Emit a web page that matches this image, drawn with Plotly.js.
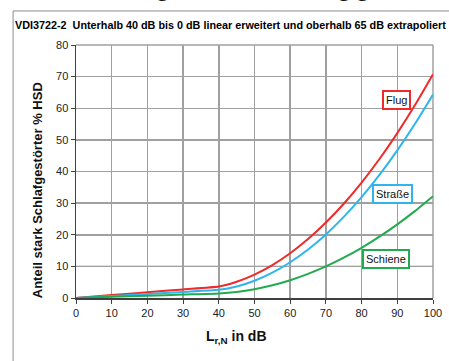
<!DOCTYPE html>
<html>
<head>
<meta charset="utf-8">
<script src="https://cdn.plot.ly/plotly-3.0.1.min.js"></script>
<style>
html,body{margin:0;padding:0;background:#fff;}
#chart{width:449px;height:361px;}
</style>
</head>
<body>
<div id="chart"></div>
<script>
// Level L_r,N in dB
var levels = [0, 10, 20, 30, 40, 45, 50, 55, 60, 65, 70, 75, 80, 85, 90, 95, 100];
// % HSD per source
var flug    = [0, 0.91, 1.81, 2.72, 3.62, 5.14, 7.40, 10.40, 14.14, 18.62, 23.85, 29.81, 36.52, 43.96, 52.15, 61.08, 70.75];
var strasse = [0, 0.64, 1.29, 1.93, 2.58, 3.64, 5.45, 8.00, 11.30, 15.33, 20.11, 25.64, 31.90, 38.91, 46.67, 55.16, 64.36];
var schiene = [0, 0.36, 0.72, 1.08, 1.44, 1.92, 2.78, 4.01, 5.62, 7.62, 9.99, 12.74, 15.88, 19.39, 23.28, 27.55, 32.20];
var seriesNames = ["Flug", "Straße", "Schiene"];
var seriesColors = ["#ee2a2a", "#2fb5ec", "#22aa4f"];
var labelX = [89.9, 88.7, 86.9];
var labelY = [62.7, 33.0, 12.4];
var xTicks = [0, 10, 20, 30, 40, 50, 60, 70, 80, 90, 100];
var yTicks = [0, 10, 20, 30, 40, 50, 60, 70, 80];

var W = 449, H = 361;
var mL = 76, mR = 15.5, mT = 45, mB = 63.3;
var pw = W - mL - mR, ph = H - mT - mB;
function px2x(p){ return (p - mL) / pw; }
function py2y(p){ return (H - mB - p) / ph; }

var seriesData = [flug, strasse, schiene];
var traces = seriesData.map(function(d, i){
  return {
    x: levels, y: d, type: 'scatter', mode: 'lines', name: seriesNames[i],
    line: {color: seriesColors[i], width: 2, shape: 'spline', smoothing: 0.5},
    hoverinfo: 'skip'
  };
});

var annotations = seriesNames.map(function(n, i){
  return {
    x: labelX[i], y: labelY[i], xref: 'x', yref: 'y', text: n, showarrow: false,
    font: {family: 'Liberation Sans, Arial, sans-serif', size: 11, color: '#111'},
    bgcolor: '#ffffff', bordercolor: seriesColors[i], borderwidth: 2, borderpad: 2
  };
});
annotations.push({
  x: px2x(237), y: py2y(337), xref: 'paper', yref: 'paper', showarrow: false,
  text: 'L<sub>r,N</sub> in dB', xanchor: 'center', yanchor: 'middle',
  font: {family: 'Liberation Sans, Arial, sans-serif', size: 14, color: '#111', weight: 'bold'}
});
annotations.push({
  x: px2x(37), y: py2y(190), xref: 'paper', yref: 'paper', showarrow: false,
  text: 'Anteil stark Schlafgestörter % HSD', textangle: -90, xanchor: 'center', yanchor: 'middle',
  font: {family: 'Liberation Sans, Arial, sans-serif', size: 13, color: '#111', weight: 'bold'}
});
annotations.push({
  x: px2x(4), y: py2y(3), xref: 'paper', yref: 'paper', showarrow: false,
  text: 'der stark Schlafgestörten in Abhängigkeit', xanchor: 'left', yanchor: 'bottom',
  font: {family: 'Liberation Serif, Times New Roman, serif', size: 24, color: '#111'}
});

var shapes = [
  // outer frame
  {type: 'line', xref: 'paper', yref: 'paper', x0: px2x(13), x1: px2x(13), y0: py2y(11), y1: py2y(400), line: {color: '#8c8c8c', width: 1}},
  {type: 'line', xref: 'paper', yref: 'paper', x0: px2x(13), x1: px2x(460), y0: py2y(11), y1: py2y(11), line: {color: '#8c8c8c', width: 1}},
  // black line at 10 %
  {type: 'line', xref: 'paper', yref: 'y', x0: 0, x1: 1, y0: 10, y1: 10, layer: 'below', line: {color: '#000', width: 1}},
  // plot border right/top
  {type: 'line', xref: 'paper', yref: 'paper', x0: 1, x1: 1, y0: 0, y1: 1, layer: 'below', line: {color: '#a0a0a0', width: 1.5}},
  {type: 'line', xref: 'paper', yref: 'paper', x0: 0, x1: 1, y0: 1, y1: 1, layer: 'below', line: {color: '#a0a0a0', width: 1.5}}
];

var layout = {
  width: W, height: H,
  margin: {l: mL, r: mR, t: mT, b: mB, pad: 0},
  paper_bgcolor: '#ffffff', plot_bgcolor: '#ffffff',
  showlegend: false,
  title: {
    text: 'VDI3722-2  Unterhalb 40 dB bis 0 dB linear erweitert und oberhalb 65 dB extrapoliert',
    x: 15 / W, xanchor: 'left', xref: 'container',
    y: 1 - 25 / H, yanchor: 'middle', yref: 'container',
    font: {family: 'Liberation Sans, Arial, sans-serif', size: 10.8, color: '#000', weight: 'bold'}
  },
  xaxis: {
    range: [0, 100], tickvals: xTicks, ticktext: xTicks.map(String),
    showgrid: true, gridcolor: '#a0a0a0', gridwidth: 1.5,
    zeroline: false, showline: true, linecolor: '#404040', linewidth: 1.5,
    ticks: 'outside', ticklen: 4, tickcolor: '#404040', tickwidth: 1,
    tickfont: {family: 'Liberation Sans, Arial, sans-serif', size: 11, color: '#222'},
    fixedrange: true
  },
  yaxis: {
    range: [0, 80], tickvals: yTicks, ticktext: yTicks.map(String),
    showgrid: true, gridcolor: '#a0a0a0', gridwidth: 1.5,
    zeroline: false, showline: true, linecolor: '#404040', linewidth: 1.5,
    ticks: 'outside', ticklen: 4, tickcolor: '#404040', tickwidth: 1,
    tickfont: {family: 'Liberation Sans, Arial, sans-serif', size: 11, color: '#222'},
    fixedrange: true
  },
  annotations: annotations,
  shapes: shapes
};

Plotly.newPlot('chart', traces, layout, {displayModeBar: false, staticPlot: true});
</script>
</body>
</html>
